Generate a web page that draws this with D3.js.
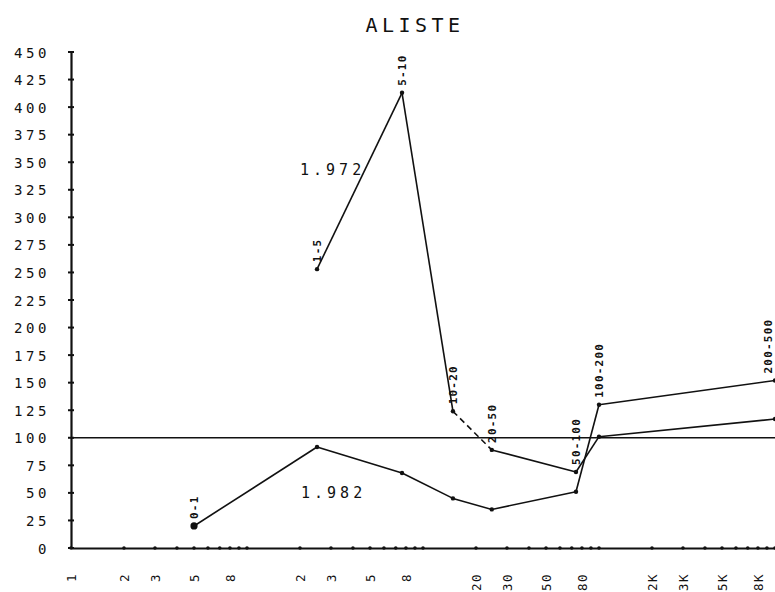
<!DOCTYPE html>
<html>
<head>
<meta charset="utf-8">
<script src="https://cdn.jsdelivr.net/npm/d3@7"></script>
<style>
  html, body { margin: 0; padding: 0; background: #fff; }
  svg { display: block; }
  text { font-family: "DejaVu Sans Mono", "Liberation Mono", monospace; fill: #111; }
</style>
</head>
<body>
<div id="chart"></div>
<script>
// ---------- data ----------
const chartTitle = "ALISTE";
const classLabels = ["0-1", "1-5", "5-10", "10-20", "20-50", "50-100", "100-200", "200-500"];
const classX      = [5, 25, 76, 148, 246, 740, 1000, 10000];
const series1972  = [null, 253, 413, 124, 89, 69, 101, 117];
const series1982  = [20, 91.6, 68, 45, 35, 51, 130, 152];
const seriesNames = ["1.972", "1.982"];
const yTickValues = [0, 25, 50, 75, 100, 125, 150, 175, 200, 225, 250, 275, 300, 325, 350, 375, 400, 425, 450];
const xTickValues = [1, 2, 3, 5, 8, 20, 30, 50, 80, 200, 300, 500, 800, 2000, 3000, 5000, 8000];
const xTickLabels = ["1", "2", "3", "5", "8", "2", "3", "5", "8", "20", "30", "50", "80", "2K", "3K", "5K", "8K"];
const xMinorValues = [1,2,3,4,5,6,7,8,9,10,20,30,40,50,60,70,80,90,100,200,300,400,500,600,700,800,900,1000,2000,3000,4000,5000,6000,7000,8000,9000,10000];
const referenceValue = 100;

// ---------- layout ----------
const W = 775, H = 592;
const svg = d3.select("#chart").append("svg").attr("width", W).attr("height", H);

const x = d3.scaleLog().domain([1, 10000]).range([71, 775]);
const y = d3.scaleLinear().domain([0, 450]).range([548, 52]);

// title
svg.append("text")
  .attr("x", 415).attr("y", 32)
  .attr("text-anchor", "middle")
  .style("font-size", "20px").style("letter-spacing", "4.5px")
  .text(chartTitle);

// y axis
const yAxis = d3.axisLeft(y).tickValues(yTickValues).tickSize(0).tickPadding(0);
const gy = svg.append("g").attr("transform", "translate(71,0)").call(yAxis);
gy.select(".domain").attr("stroke", "#111").attr("stroke-width", 2.2);
gy.selectAll(".tick text")
  .attr("x", -21)
  .attr("dy", "0.36em")
  .style("font-size", "14px")
  .style("letter-spacing", "3.6px")
  .style("font-family", "'DejaVu Sans Mono', monospace")
  .attr("fill", "#111");
// y tick crosses
svg.append("g").selectAll("line").data(yTickValues).join("line")
  .attr("x1", 68).attr("x2", 74)
  .attr("y1", d => y(d)).attr("y2", d => y(d))
  .attr("stroke", "#111").attr("stroke-width", 2);

// x axis
const xAxis = d3.axisBottom(x).tickValues(xTickValues)
  .tickFormat((d, i) => xTickLabels[i]).tickSize(0).tickPadding(0);
const gx = svg.append("g").attr("transform", "translate(0,548)").call(xAxis);
gx.select(".domain").attr("stroke", "#111").attr("stroke-width", 2);
gx.selectAll(".tick text")
  .attr("transform", "rotate(-90)")
  .attr("text-anchor", "end")
  .attr("x", -25)
  .attr("y", 0)
  .attr("dy", "0.36em")
  .style("font-size", "12.5px")
  .style("letter-spacing", "1.5px")
  .style("font-family", "'DejaVu Sans Mono', monospace")
  .attr("fill", "#111");
// minor dots on x axis
svg.append("g").selectAll("circle").data(xMinorValues).join("circle")
  .attr("cx", d => x(d)).attr("cy", 548).attr("r", 1.8).attr("fill", "#111");

// reference line at 100
svg.append("line")
  .attr("x1", x(1)).attr("x2", x(10000))
  .attr("y1", y(referenceValue)).attr("y2", y(referenceValue))
  .attr("stroke", "#111").attr("stroke-width", 1.6);

// series
const pts1972 = classX.map((cx, i) => ({x: cx, v: series1972[i]})).filter(p => p.v != null);
const pts1982 = classX.map((cx, i) => ({x: cx, v: series1982[i]}));
const line = d3.line().x(p => x(p.x)).y(p => y(p.v));

function drawSeries(pts, dashedSegments) {
  const g = svg.append("g");
  for (let i = 0; i < pts.length - 1; i++) {
    g.append("path")
      .attr("d", line([pts[i], pts[i + 1]]))
      .attr("fill", "none")
      .attr("stroke", "#111")
      .attr("stroke-width", 1.6)
      .attr("stroke-dasharray", dashedSegments.includes(i) ? "6,4" : null);
  }
  g.selectAll("circle").data(pts).join("circle")
    .attr("cx", p => x(p.x)).attr("cy", p => y(p.v)).attr("r", 2.2).attr("fill", "#111");
}
drawSeries(pts1972, [2]);
drawSeries(pts1982, []);

// first point blob
svg.append("circle").attr("cx", x(pts1982[0].x)).attr("cy", y(pts1982[0].v)).attr("r", 3.6).attr("fill", "#111");

// class labels above the highest point
svg.append("g").selectAll("text").data(classX).join("text")
  .attr("transform", (d, i) => {
    const vals = [series1972[i], series1982[i]].filter(v => v != null);
    const top = d3.max(vals);
    const px = Math.min(x(d), W - 7);
    return `translate(${px},${y(top) - 7}) rotate(-90)`;
  })
  .attr("text-anchor", "start")
  .attr("dy", "0.36em")
  .style("font-size", "11px")
  .style("font-weight", "bold")
  .style("letter-spacing", "1.2px")
  .text((d, i) => classLabels[i]);

// series name annotations
svg.append("text")
  .attr("x", x(25) - 17).attr("y", y(338))
  .style("font-size", "15px").style("letter-spacing", "4px")
  .text(seriesNames[0]);
svg.append("text")
  .attr("x", x(25) - 16).attr("y", y(45))
  .style("font-size", "15px").style("letter-spacing", "4px")
  .text(seriesNames[1]);
</script>
</body>
</html>
